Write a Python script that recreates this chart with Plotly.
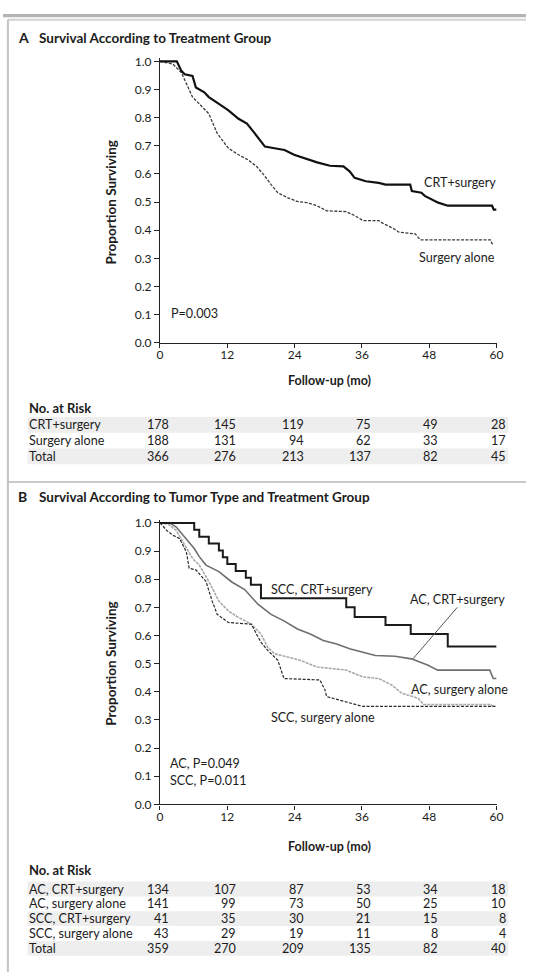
import plotly.graph_objects as go

# ---------------- data ----------------
months = [0, 12, 24, 36, 48, 60]

# Panel A
a_crt_t = [0, 3.0, 3.8, 4.4, 5.8, 6.4, 7.9, 8.7, 10.5, 12.2, 14.0, 15.5, 16.9, 18.7, 20.4, 22.2, 23.9, 26.2,
           28.0, 30.3, 32.7, 33.8, 34.7, 36.7, 39.0, 40.2, 44.6, 44.9, 46.6, 47.2, 49.6, 51.3, 59.2, 59.5, 60]
a_crt_s = [1.0, 1.0, 0.966, 0.954, 0.948, 0.907, 0.89, 0.873, 0.849, 0.826, 0.796, 0.779, 0.744, 0.697, 0.691,
           0.685, 0.668, 0.653, 0.641, 0.629, 0.627, 0.609, 0.586, 0.574, 0.568, 0.562, 0.562, 0.539, 0.533,
           0.522, 0.498, 0.487, 0.487, 0.473, 0.473]
a_sur_t = [0, 2.3, 3.8, 4.7, 5.8, 7.0, 8.7, 10.2, 11.1, 12.2, 14.0, 15.7, 17.2, 18.7, 19.8, 21.0, 22.7, 24.5,
           26.2, 28.0, 29.7, 33.2, 34.7, 36.2, 39.0, 39.6, 41.7, 42.6, 45.5, 46.4, 58.9, 59.2, 59.5]
a_sur_s = [1.0, 0.99, 0.96, 0.919, 0.873, 0.849, 0.814, 0.744, 0.72, 0.691, 0.668, 0.65, 0.627, 0.592, 0.562,
           0.533, 0.516, 0.502, 0.498, 0.487, 0.469, 0.466, 0.452, 0.434, 0.434, 0.426, 0.405, 0.393, 0.387,
           0.366, 0.366, 0.352, 0.352]

# Panel B
scc_crt_t = [0, 6.1, 6.1, 7.0, 7.0, 8.7, 8.7, 10.5, 10.5, 11.2, 11.2, 12.0, 12.0, 13.5, 13.5, 15.3, 15.3, 16.2,
             16.2, 18.0, 18.0, 33.2, 33.2, 34.7, 34.7, 40.2, 40.2, 44.7, 44.7, 51.3, 51.3, 60]
scc_crt_s = [1.0, 1.0, 0.976, 0.976, 0.951, 0.951, 0.927, 0.927, 0.902, 0.902, 0.878, 0.878, 0.854, 0.854,
             0.829, 0.829, 0.805, 0.805, 0.78, 0.78, 0.732, 0.732, 0.70, 0.70, 0.666, 0.666, 0.637, 0.637,
             0.605, 0.605, 0.561, 0.561]
ac_crt_t = [0, 1.7, 2.9, 4.7, 6.1, 7.0, 8.2, 10.5, 12.8, 15.1, 17.5, 19.8, 22.1, 24.5, 26.8, 29.1, 31.5, 33.8,
            36.1, 38.4, 41.9, 44.8, 47.8, 49.5, 58.8, 59.4, 60]
ac_crt_s = [1.0, 1.0, 0.985, 0.944, 0.909, 0.88, 0.85, 0.827, 0.79, 0.763, 0.71, 0.675, 0.652, 0.623, 0.605,
            0.582, 0.57, 0.553, 0.541, 0.529, 0.526, 0.517, 0.494, 0.477, 0.477, 0.447, 0.447]
ac_sur_t = [0, 1.5, 2.9, 4.7, 5.8, 7.0, 8.7, 10.5, 12.2, 14.0, 16.3, 18.0, 19.2, 20.4, 22.7, 25.0, 28.0, 30.3,
            33.2, 36.1, 39.0, 41.3, 43.1, 46.0, 47.0, 59.0, 59.5]
ac_sur_s = [1.0, 0.995, 0.973, 0.909, 0.874, 0.85, 0.792, 0.722, 0.687, 0.664, 0.64, 0.605, 0.558, 0.535,
            0.523, 0.512, 0.488, 0.482, 0.477, 0.453, 0.447, 0.424, 0.395, 0.377, 0.355, 0.355, 0.345]
scc_sur_t = [0, 1.2, 2.3, 3.5, 4.7, 5.2, 6.4, 8.2, 9.3, 10.2, 12.2, 16.3, 17.2, 18.0, 19.2, 21.0, 22.1, 28.5,
             29.4, 29.7, 36.1, 60]
scc_sur_s = [1.0, 0.973, 0.956, 0.944, 0.897, 0.839, 0.833, 0.792, 0.722, 0.675, 0.646, 0.64, 0.605, 0.576,
             0.547, 0.512, 0.447, 0.442, 0.407, 0.383, 0.348, 0.348]

# Number at risk
risk_a_labels = ["CRT+surgery", "Surgery alone", "Total"]
risk_a = [[178, 145, 119, 75, 49, 28],
          [188, 131, 94, 62, 33, 17],
          [366, 276, 213, 137, 82, 45]]
risk_b_labels = ["AC, CRT+surgery", "AC, surgery alone", "SCC, CRT+surgery", "SCC, surgery alone", "Total"]
risk_b = [[134, 107, 87, 53, 34, 18],
          [141, 99, 73, 50, 25, 10],
          [41, 35, 30, 21, 15, 8],
          [43, 29, 19, 11, 8, 4],
          [359, 270, 209, 135, 82, 40]]

y_ticks = [i / 10 for i in range(11)]

# ---------------- layout helpers ----------------
W, H = 533, 979
FONT = "Lato"
TXT = "#1c1c1c"


def px(x):
    return x / W


def py(y):
    return 1 - y / H


fig = go.Figure()

def add(x, y, xa, ya, color, width, dash="solid"):
    fig.add_trace(go.Scatter(x=x, y=y, mode="lines", xaxis=xa, yaxis=ya,
                             line=dict(color=color, width=width, dash=dash), showlegend=False,
                             hoverinfo="skip"))

add(a_sur_t, a_sur_s, "x", "y", "#3a3a3a", 1.3, "3px,1.5px")
add(a_crt_t, a_crt_s, "x", "y", "#111111", 2.2)

add(ac_sur_t, ac_sur_s, "x2", "y2", "#a8a8a8", 1.6, "3px,1px")
add(scc_sur_t, scc_sur_s, "x2", "y2", "#2a2a2a", 1.2, "3px,1.5px")
add(ac_crt_t, ac_crt_s, "x2", "y2", "#6e6e6e", 1.6)
add(scc_crt_t, scc_crt_s, "x2", "y2", "#1a1a1a", 2.0)

xdom = [px(160), px(503)]
axis_common = dict(showgrid=False, zeroline=False, showline=True, linecolor="#222", linewidth=1.3,
                   ticks="outside", tickwidth=1.2, tickcolor="#222",
                   tickfont=dict(family=FONT, size=12, color=TXT))
xaxis_common = dict(domain=xdom, range=[0, 60], tickvals=months, ticklen=4, ticklabelstandoff=-3,
                    **axis_common)
yaxis_common = dict(range=[0, 1.01], tickvals=y_ticks, tickformat=".1f", ticklen=5, **axis_common)

fig.update_layout(
    width=W, height=H, margin=dict(l=0, r=0, t=0, b=0),
    paper_bgcolor="white", plot_bgcolor="white",
    xaxis=dict(anchor="y", **xaxis_common),
    yaxis=dict(domain=[py(342), py(342 - 285 * 1.01)], anchor="x", **yaxis_common),
    xaxis2=dict(anchor="y2", **xaxis_common),
    yaxis2=dict(domain=[py(809.3), py(809.3 - 285 * 1.01)], anchor="x2", **yaxis_common),
)

ann = []
shapes = []

def text(x, y, s, size=12.6, bold=False, xanchor="center", xref="paper", yref="paper", angle=0, color=TXT, **kw):
    ann.append(dict(x=x, y=y, xref=xref, yref=yref, text=f"<b>{s}</b>" if bold else s, showarrow=False,
                    xanchor=xanchor, yanchor="middle", textangle=angle, borderpad=0, borderwidth=0,
                    font=dict(family=FONT, size=size, color=color), **kw))

# frame
shapes.append(dict(type="rect", xref="paper", yref="paper", x0=0, x1=1, y0=py(12.5), y1=py(9),
                   fillcolor="#b4b4b4", line=dict(width=0)))
shapes.append(dict(type="line", xref="paper", yref="paper", x0=px(5), x1=1, y0=py(15), y1=py(15),
                   line=dict(color="#d2d2d2", width=2)))
shapes.append(dict(type="line", xref="paper", yref="paper", x0=px(5), x1=px(5), y0=py(15), y1=0,
                   line=dict(color="#c4c4c4", width=2)))
shapes.append(dict(type="line", xref="paper", yref="paper", x0=px(5), x1=1, y0=py(483), y1=py(483),
                   line=dict(color="#b8b8b8", width=1.5)))

# titles
text(px(15), py(33), "A", size=14, bold=True, xanchor="left")
text(px(37), py(33), "Survival According to Treatment Group", size=13.5, bold=True, xanchor="left")
text(px(15), py(498), "B", size=14, bold=True, xanchor="left")
text(px(37), py(498), "Survival According to Tumor Type and Treatment Group", size=13.5, bold=True,
     xanchor="left")

# axis titles
for yc in (200, 667):
    text(px(110), py(yc), "Proportion Surviving", size=13.5, bold=True, angle=-90)
for yc in (380, 852):
    text(px(333), py(yc), "Follow-up (mo)", size=12.5, bold=True)

# curve labels panel A
text(53.4, 0.571, "CRT+surgery", xref="x", yref="y")
text(53.0, 0.302, "Surgery alone", xref="x", yref="y")
text(2.0, 0.105, "P=0.003", xref="x", yref="y", xanchor="left")

# curve labels panel B
text(28.8, 0.763, "SCC, CRT+surgery", xref="x2", yref="y2")
text(53.1, 0.728, "AC, CRT+surgery", xref="x2", yref="y2")
text(53.4, 0.409, "AC, surgery alone", xref="x2", yref="y2")
text(29.1, 0.31, "SCC, surgery alone", xref="x2", yref="y2")
text(1.75, 0.144, "AC, P=0.049", xref="x2", yref="y2", xanchor="left")
text(1.75, 0.085, "SCC, P=0.011", xref="x2", yref="y2", xanchor="left")
shapes.append(dict(type="line", xref="x2", yref="y2", x0=53.0, y0=0.70, x1=45.1, y1=0.517,
                   line=dict(color="#555", width=1)))

# risk tables
def risk_table(labels, rows, y_head, y_first, step, xref):
    text(px(27), py(y_head), "No. at Risk", size=13, bold=True, xanchor="left")
    for i, (lab, vals) in enumerate(zip(labels, rows)):
        yc = y_first + i * step
        if i % 2 == 0:
            shapes.append(dict(type="rect", xref="paper", yref="paper", x0=px(25), x1=px(515),
                               y0=py(yc + step / 2), y1=py(yc - step / 2), fillcolor="#eeeeee",
                               line=dict(width=0), layer="below"))
        text(px(27), py(yc), lab, xanchor="left")
        for m, v in zip(months, vals):
            text(m, py(yc), str(v), xanchor="right", xref=xref, xshift=9)

risk_table(risk_a_labels, risk_a, 408, 425, 16, "x")
risk_table(risk_b_labels, risk_b, 876, 895, 15, "x2")

fig.update_layout(annotations=ann, shapes=shapes)
fig.write_html("out.html")
